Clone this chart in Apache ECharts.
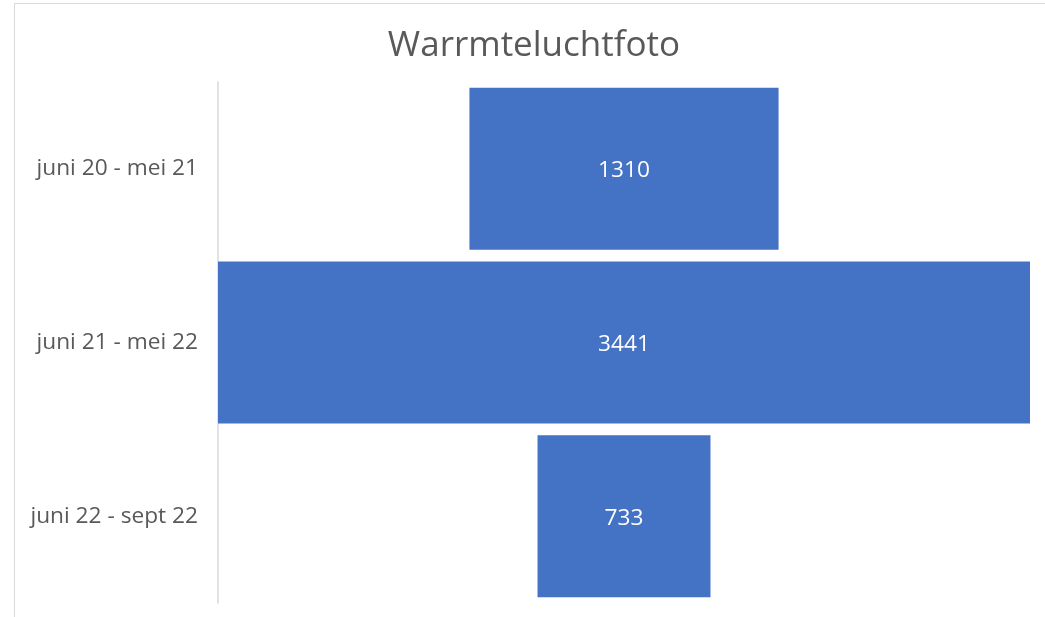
<!DOCTYPE html>
<html>
<head>
<meta charset="utf-8">
<script src="https://cdn.jsdelivr.net/npm/echarts@6/dist/echarts.min.js"></script>
<style>
  html, body { margin: 0; padding: 0; background: #fff; overflow: hidden; }
  #frame { position: absolute; left: 14px; top: 3px; width: 1100px; height: 700px; border: 1px solid #d9d9d9; }
  #chart { position: absolute; left: 0; top: 0; width: 1045px; height: 617px; }
</style>
</head>
<body>
<div id="frame"></div>
<div id="chart"></div>
<script>
// funnel data
const categories = ['juni 20 - mei 21', 'juni 21 - mei 22', 'juni 22 - sept 22']
const values = [1310, 3441, 733]
const titleText = 'Warrmteluchtfoto'

const maxValue = Math.max(...values)
// invisible spacer so each bar is centred
const spacer = values.map(v => (maxValue - v) / 2)

const chart = echarts.init(document.getElementById('chart'))
const option = {
  animation: false,
  textStyle: { fontFamily: 'Open Sans' },
  title: {
    text: titleText,
    left: 529,
    textAlign: 'center',
    top: 24,
    textStyle: { fontSize: 35, fontWeight: 'normal', color: '#595959', fontFamily: 'Open Sans' }
  },
  grid: { left: 218, right: 15, top: 82, bottom: 14 },
  xAxis: {
    type: 'value',
    min: 0,
    max: maxValue,
    show: false
  },
  yAxis: {
    type: 'category',
    inverse: true,
    data: categories,
    axisLine: { show: true, lineStyle: { color: '#d9d9d9', width: 1.5 } },
    axisTick: { show: false },
    axisLabel: { fontSize: 22.7, color: '#595959', margin: 20, padding: [5, 0, 0, 0] }
  },
  series: [
    {
      type: 'bar',
      stack: 'f',
      data: spacer,
      barWidth: 162,
      itemStyle: { color: 'transparent' },
      silent: true
    },
    {
      type: 'bar',
      stack: 'f',
      data: values,
      barWidth: 162,
      itemStyle: { color: '#4472c4' },
      label: {
        show: true,
        position: 'inside',
        color: '#ffffff',
        fontSize: 22.7,
        offset: [0, 2]
      }
    }
  ]
}
chart.setOption(option)
</script>
</body>
</html>
